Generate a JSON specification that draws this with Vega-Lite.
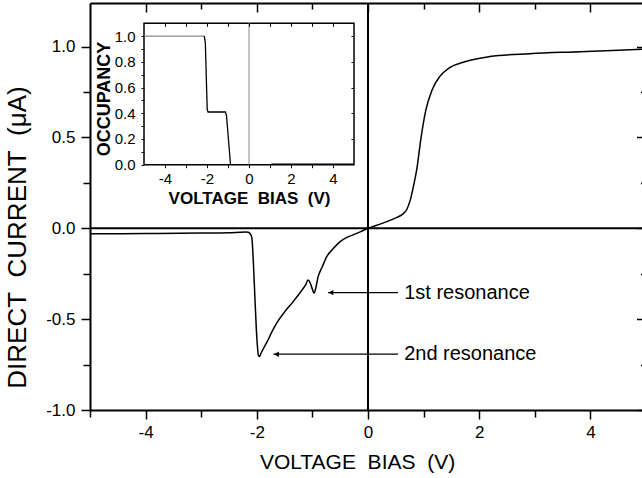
{
  "$schema": "https://vega.github.io/schema/vega-lite/v6.json",
  "width": 552,
  "height": 407,
  "autosize": {"type": "none"},
  "padding": {"left": 90, "top": 3, "right": 0, "bottom": 68},
  "background": "white",
  "config": {
    "view": {"stroke": null},
    "axis": {"grid": false, "domainColor": "black", "tickColor": "black", "labelColor": "black", "titleColor": "black", "labelFont": "Liberation Sans", "titleFont": "Liberation Sans", "titleFontWeight": "normal"},
    "text": {"font": "Liberation Sans"}
  },
  "datasets": {
    "curve": [
      {"v": -5, "i": -0.030}, {"v": -4, "i": -0.029}, {"v": -3, "i": -0.026}, {"v": -2.5, "i": -0.024}, {"v": -2.2, "i": -0.021},
      {"v": -2.15, "i": -0.022}, {"v": -2.12, "i": -0.03}, {"v": -2.09, "i": -0.05}, {"v": -2.06, "i": -0.2}, {"v": -2.03, "i": -0.41},
      {"v": -2.0, "i": -0.6}, {"v": -1.97, "i": -0.70}, {"v": -1.95, "i": -0.705}, {"v": -1.92, "i": -0.685}, {"v": -1.87, "i": -0.655},
      {"v": -1.82, "i": -0.628}, {"v": -1.72, "i": -0.565}, {"v": -1.64, "i": -0.52}, {"v": -1.5, "i": -0.46}, {"v": -1.35, "i": -0.405},
      {"v": -1.2, "i": -0.345}, {"v": -1.12, "i": -0.31}, {"v": -1.08, "i": -0.285}, {"v": -1.04, "i": -0.3}, {"v": -1.0, "i": -0.335},
      {"v": -0.97, "i": -0.357}, {"v": -0.94, "i": -0.33}, {"v": -0.9, "i": -0.27}, {"v": -0.82, "i": -0.21}, {"v": -0.74, "i": -0.155},
      {"v": -0.62, "i": -0.11}, {"v": -0.5, "i": -0.073}, {"v": -0.38, "i": -0.05}, {"v": -0.26, "i": -0.035}, {"v": -0.13, "i": -0.018},
      {"v": 0, "i": 0}, {"v": 0.17, "i": 0.018}, {"v": 0.34, "i": 0.037}, {"v": 0.52, "i": 0.06}, {"v": 0.62, "i": 0.077},
      {"v": 0.7, "i": 0.105}, {"v": 0.76, "i": 0.155}, {"v": 0.82, "i": 0.235}, {"v": 0.88, "i": 0.33}, {"v": 0.95, "i": 0.49},
      {"v": 1.04, "i": 0.65}, {"v": 1.15, "i": 0.76}, {"v": 1.29, "i": 0.835}, {"v": 1.47, "i": 0.884}, {"v": 1.74, "i": 0.917},
      {"v": 2.19, "i": 0.945}, {"v": 2.91, "i": 0.961}, {"v": 3.81, "i": 0.972}, {"v": 4.93, "i": 0.986}
    ],
    "zero": [{"z": 0}],
    "ann": [
      {"x1": -0.72, "x2": 0.54, "tx": 0.65, "y": -0.354, "label": "1st resonance"},
      {"x1": -1.7, "x2": 0.54, "tx": 0.65, "y": -0.693, "label": "2nd resonance"}
    ],
    "box": [{"a": -5, "b": 5, "c": 0, "d": 1.1}],
    "occ": [
      {"v": -5, "o": 1.0, "s": "g"}, {"v": -2.13, "o": 1.0, "s": "g"},
      {"v": -2.13, "o": 1.0, "s": "k"}, {"v": -2.08, "o": 0.95, "s": "k"}, {"v": -1.99, "o": 0.43, "s": "k"}, {"v": -1.95, "o": 0.41, "s": "k"},
      {"v": -1.12, "o": 0.41, "s": "k"}, {"v": -1.07, "o": 0.38, "s": "k"}, {"v": -0.88, "o": 0.0, "s": "k"},
      {"v": 1.07, "o": 0.004, "s": "t"}, {"v": 5, "o": 0.004, "s": "t"}
    ],
    "ivl": [{"z": 0, "y0": 0, "y1": 1.1}]
  },
  "resolve": {"scale": {"x": "independent", "y": "independent"}, "axis": {"x": "independent", "y": "independent"}},
  "layer": [
    {
      "data": {"name": "curve"},
      "mark": {"type": "line", "color": "black", "strokeWidth": 1.5, "interpolate": "monotone"},
      "encoding": {
        "x": {"field": "v", "type": "quantitative", "scale": {"domain": [-5, 4.928], "nice": false, "zero": false},
          "axis": {"orient": "bottom", "values": [-5, -4, -3, -2, -1, 0, 1, 2, 3, 4], "labelExpr": "datum.value % 2 == 0 ? '' + datum.value : ''",
            "tickSize": {"condition": {"test": "datum.value % 2 == 0", "value": 9}, "value": 7}, "tickWidth": 1.5, "domainWidth": 2, "labelFontSize": 17, "labelPadding": 5,
            "title": "VOLTAGE\u00a0\u00a0BIAS\u00a0\u00a0(V)", "titleFontSize": 21, "titlePadding": 11, "titleX": 267}},
        "y": {"field": "i", "type": "quantitative", "scale": {"domain": [-1, 1.24], "nice": false, "zero": false},
          "axis": {"orient": "left", "values": [-1, -0.75, -0.5, -0.25, 0, 0.25, 0.5, 0.75, 1], "labelExpr": "datum.value % 0.5 == 0 ? (datum.value < 0 ? '-' : '') + format(abs(datum.value), '.1f') : ''",
            "tickSize": {"condition": {"test": "datum.value % 0.5 == 0", "value": 9}, "value": 7}, "tickWidth": 1.5, "domainWidth": 2, "labelFontSize": 17, "labelPadding": 6,
            "title": "DIRECT\u00a0\u00a0CURRENT\u00a0\u00a0(μA)", "titleFontSize": 26, "titlePadding": 15, "titleY": 234}}
      }
    },
    {
      "data": {"name": "zero"},
      "mark": {"type": "rule", "color": "black", "strokeWidth": 2},
      "encoding": {
        "y": {"field": "z", "type": "quantitative", "scale": {"domain": [-1, 1.24], "nice": false, "zero": false},
          "axis": {"orient": "right", "domain": false, "labels": false, "title": null, "values": [-1, -0.75, -0.5, -0.25, 0, 0.25, 0.5, 0.75, 1],
            "tickSize": {"condition": {"test": "datum.value % 0.5 == 0", "value": -5.5}, "value": -1.5}, "tickWidth": 1.5}}
      }
    },
    {
      "data": {"name": "zero"},
      "mark": {"type": "rule", "color": "black", "strokeWidth": 2},
      "encoding": {
        "x": {"field": "z", "type": "quantitative", "scale": {"domain": [-5, 4.928], "nice": false, "zero": false},
          "axis": {"orient": "top", "labels": false, "title": null, "values": [-4, -3, -2, -1, 0, 1, 2, 3, 4],
            "tickSize": {"condition": {"test": "datum.value % 2 == 0", "value": -9}, "value": -6}, "tickWidth": 1.5, "domainWidth": 2}}
      }
    },
    {
      "data": {"name": "ann"},
      "mark": {"type": "rule", "color": "black", "strokeWidth": 1.2},
      "encoding": {
        "x": {"field": "x1", "type": "quantitative", "scale": {"domain": [-5, 4.928], "nice": false, "zero": false}, "axis": null},
        "x2": {"field": "x2"},
        "y": {"field": "y", "type": "quantitative", "scale": {"domain": [-1, 1.24], "nice": false, "zero": false}, "axis": null}
      }
    },
    {
      "data": {"name": "ann"},
      "mark": {"type": "point", "shape": "triangle-left", "filled": true, "color": "black", "size": 30, "opacity": 1, "xOffset": 3},
      "encoding": {
        "x": {"field": "x1", "type": "quantitative", "scale": {"domain": [-5, 4.928], "nice": false, "zero": false}, "axis": null},
        "y": {"field": "y", "type": "quantitative", "scale": {"domain": [-1, 1.24], "nice": false, "zero": false}, "axis": null}
      }
    },
    {
      "data": {"name": "ann"},
      "mark": {"type": "text", "align": "left", "baseline": "middle", "fontSize": 20, "color": "black", "font": "Liberation Sans"},
      "encoding": {
        "x": {"field": "tx", "type": "quantitative", "scale": {"domain": [-5, 4.928], "nice": false, "zero": false}, "axis": null},
        "y": {"field": "y", "type": "quantitative", "scale": {"domain": [-1, 1.24], "nice": false, "zero": false}, "axis": null},
        "text": {"field": "label"}
      }
    },
    {
      "data": {"name": "box"},
      "mark": {"type": "rect", "fill": "white", "stroke": "black", "strokeWidth": 1.5},
      "encoding": {
        "x": {"field": "a", "type": "quantitative", "scale": {"domain": [-5, 5], "range": [54, 264], "nice": false, "zero": false},
          "axis": {"orient": "bottom", "offset": -245.3, "zindex": 1, "values": [-4, -3, -2, -1, 0, 1, 2, 3, 4], "labelExpr": "datum.value % 2 == 0 ? '' + datum.value : ''",
            "domain": false, "tickSize": 3, "tickWidth": 1, "labelFontSize": 15, "labelPadding": 4,
            "title": "VOLTAGE\u00a0\u00a0BIAS\u00a0\u00a0(V)", "titleFontSize": 17, "titleFontWeight": "bold", "titlePadding": 4}},
        "x2": {"field": "b"},
        "y": {"field": "c", "type": "quantitative", "scale": {"domain": [0, 1.1], "range": [161.7, 20.3], "nice": false, "zero": false},
          "axis": {"orient": "left", "offset": -54, "zindex": 1, "values": [0, 0.1, 0.2, 0.3, 0.4, 0.5, 0.6, 0.7, 0.8, 0.9, 1.0], "labelExpr": "round(datum.value * 10) % 2 == 0 ? format(datum.value, '.1f') : ''",
            "domain": false, "tickSize": 3, "tickWidth": 1, "labelFontSize": 15, "labelPadding": 6,
            "title": "OCCUPANCY", "titleFontSize": 18, "titleFontWeight": "bold", "titlePadding": 1, "titleY": 95.5}},
        "y2": {"field": "d"}
      }
    },
    {
      "data": {"name": "ivl"},
      "mark": {"type": "rule", "color": "#8a8a8a", "strokeWidth": 1},
      "encoding": {
        "x": {"field": "z", "type": "quantitative", "scale": {"domain": [-5, 5], "range": [54, 264], "nice": false, "zero": false},
          "axis": {"orient": "top", "offset": -20.3, "zindex": 1, "values": [-4, -3, -2, -1, 0, 1, 2, 3, 4], "labels": false, "domain": false, "title": null, "tickSize": -3, "tickWidth": 1}},
        "y": {"field": "y0", "type": "quantitative", "scale": {"domain": [0, 1.1], "range": [161.7, 20.3], "nice": false, "zero": false},
          "axis": {"orient": "right", "offset": -288, "zindex": 1, "values": [0.2, 0.4, 0.6, 0.8, 1.0], "labels": false, "domain": false, "title": null, "tickSize": -3, "tickWidth": 1}},
        "y2": {"field": "y1"}
      }
    },
    {
      "data": {"name": "occ"},
      "mark": {"type": "line"},
      "encoding": {
        "x": {"field": "v", "type": "quantitative", "scale": {"domain": [-5, 5], "range": [54, 264], "nice": false, "zero": false}, "axis": null},
        "y": {"field": "o", "type": "quantitative", "scale": {"domain": [0, 1.1], "range": [161.7, 20.3], "nice": false, "zero": false}, "axis": null},
        "color": {"field": "s", "type": "nominal", "scale": {"domain": ["g", "k", "t"], "range": ["#8a8a8a", "black", "black"]}, "legend": null},
        "strokeWidth": {"field": "s", "type": "nominal", "scale": {"domain": ["g", "k", "t"], "range": [1.3, 1.3, 2.5]}, "legend": null}
      }
    }
  ]
}
